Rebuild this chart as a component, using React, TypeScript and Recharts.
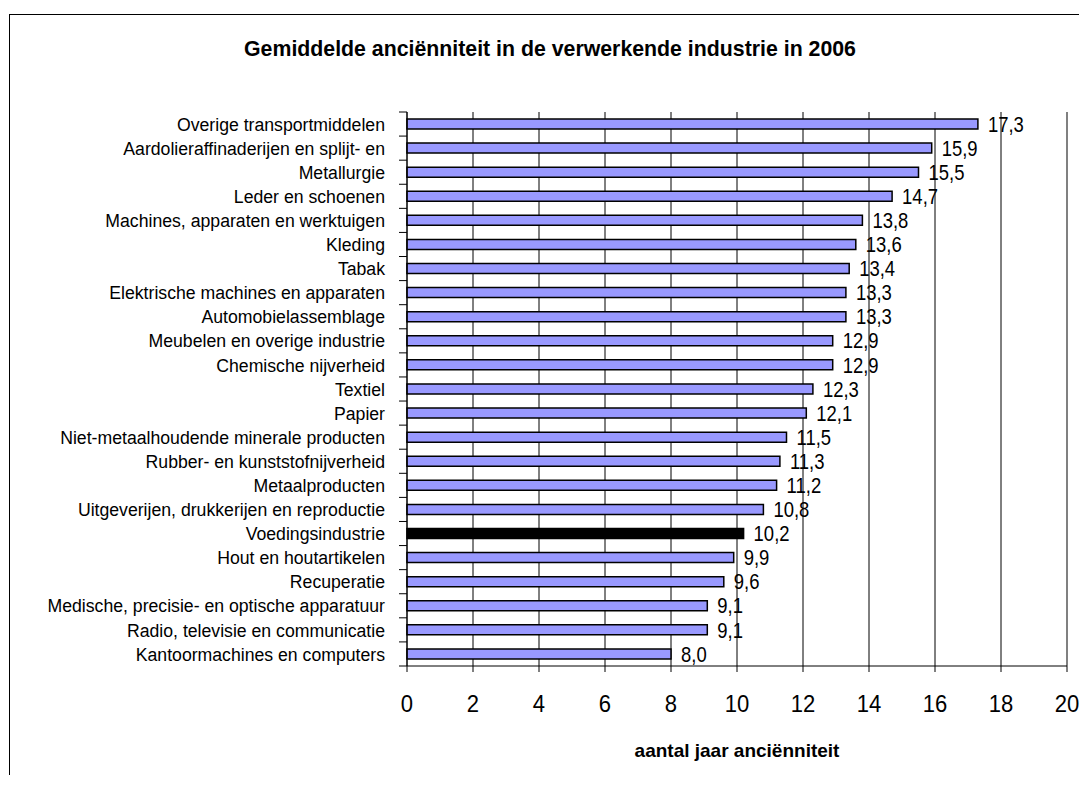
import React from "react";
import {
  BarChart,
  Bar,
  XAxis,
  YAxis,
  CartesianGrid,
  LabelList,
  Cell,
  ReferenceLine,
} from "recharts";

// sectors, top to bottom as in the chart
const sectors = [
  "Overige transportmiddelen",
  "Aardolieraffinaderijen en splijt- en",
  "Metallurgie",
  "Leder en schoenen",
  "Machines, apparaten en werktuigen",
  "Kleding",
  "Tabak",
  "Elektrische machines en apparaten",
  "Automobielassemblage",
  "Meubelen en overige industrie",
  "Chemische nijverheid",
  "Textiel",
  "Papier",
  "Niet-metaalhoudende minerale producten",
  "Rubber- en kunststofnijverheid",
  "Metaalproducten",
  "Uitgeverijen, drukkerijen en reproductie",
  "Voedingsindustrie",
  "Hout en houtartikelen",
  "Recuperatie",
  "Medische, precisie- en optische apparatuur",
  "Radio, televisie en communicatie",
  "Kantoormachines en computers",
];

const seniority = [
  17.3, 15.9, 15.5, 14.7, 13.8, 13.6, 13.4, 13.3, 13.3, 12.9, 12.9, 12.3, 12.1,
  11.5, 11.3, 11.2, 10.8, 10.2, 9.9, 9.6, 9.1, 9.1, 8.0,
];

const xTicks = [0, 2, 4, 6, 8, 10, 12, 14, 16, 18, 20];
const highlighted = "Voedingsindustrie";

const data = sectors.map((name, i) => ({ name, value: seniority[i] }));

const FONT = '"Liberation Sans", Arial, sans-serif';

const W = 1069;
const H = 760;
const TOP = 97;
const XAXIS_H = 109;
const YAXIS_W = 397;
const band = (H - TOP - XAXIS_H) / sectors.length;

// the original uses a slightly condensed face, so squeeze horizontally
const NarrowText = ({ x, y, anchor, size, dy, squeeze, children }: any) => (
  <text
    transform={`translate(${x},${y}) scale(${squeeze},1)`}
    textAnchor={anchor}
    dy={dy}
    fontSize={size}
    fontFamily={FONT}
    fill="#000"
  >
    {children}
  </text>
);

const SectorTick = (props: any) => {
  const { x, y, payload, index } = props;
  const axisX = YAXIS_W;
  return (
    <g>
      <line x1={axisX - 8} x2={axisX} y1={y - band / 2} y2={y - band / 2} stroke="#000" />
      {index === sectors.length - 1 && (
        <line x1={axisX - 8} x2={axisX} y1={y + band / 2} y2={y + band / 2} stroke="#000" />
      )}
      <NarrowText x={x} y={y} anchor="end" size={19} squeeze={0.93} dy="0.35em">
        {payload.value}
      </NarrowText>
    </g>
  );
};

const YearTick = (props: any) => {
  const { x, y, payload } = props;
  return (
    <NarrowText x={x} y={y} anchor="middle" size={24} squeeze={0.92} dy="0.71em">
      {payload.value}
    </NarrowText>
  );
};

const ValueLabel = (props: any) => {
  const { x, y, width, height, value } = props;
  return (
    <NarrowText x={x + width + 10} y={y + height / 2} anchor="start" size={22} squeeze={0.84} dy="0.35em">
      {Number(value).toFixed(1).replace(".", ",")}
    </NarrowText>
  );
};

export default function App() {
  return (
    <div
      style={{
        position: "relative",
        width: W,
        height: H,
        marginTop: 6,
        marginLeft: 1,
        borderLeft: "1px solid #000",
        borderTop: "1px solid #000",
      }}
    >
      <div
        style={{
          position: "absolute",
          left: 0,
          width: 1080,
          top: 22,
          textAlign: "center",
          fontFamily: FONT,
          fontWeight: "bold",
          fontSize: 21.3,
        }}
      >
        Gemiddelde anciënniteit in de verwerkende industrie in 2006
      </div>
      <BarChart
        width={W}
        height={H}
        data={data}
        layout="vertical"
        margin={{ top: TOP, right: 12, left: 0, bottom: 0 }}
        barCategoryGap={7}
      >
        <CartesianGrid horizontal={false} stroke="#000" />
        <XAxis
          type="number"
          domain={[0, 20]}
          ticks={xTicks}
          interval={0}
          height={XAXIS_H}
          tickSize={6}
          tickMargin={23}
          stroke="#000"
          tick={<YearTick />}
          label={{
            value: "aantal jaar anciënniteit",
            position: "insideBottom",
            offset: 18,
            fill: "#000",
            fontSize: 19,
            fontWeight: "bold",
            fontFamily: FONT,
          }}
        />
        <XAxis
          xAxisId="top"
          orientation="top"
          type="number"
          domain={[0, 20]}
          height={0}
          tick={false}
          tickLine={false}
          stroke="#808080"
          strokeWidth={2}
        />
        <YAxis
          type="category"
          dataKey="name"
          width={YAXIS_W}
          tickLine={false}
          tickSize={8}
          tickMargin={14}
          stroke="#000"
          interval={0}
          tick={<SectorTick />}
        />
        <ReferenceLine x={20} stroke="#808080" strokeWidth={2} />
        <Bar
          dataKey="value"
          fill="#9999FF"
          stroke="#000"
          strokeWidth={1.5}
          barSize={10}
          isAnimationActive={false}
        >
          {data.map((d) => (
            <Cell key={d.name} fill={d.name === highlighted ? "#000" : "#9999FF"} />
          ))}
          <LabelList dataKey="value" content={<ValueLabel />} />
        </Bar>
      </BarChart>
    </div>
  );
}
